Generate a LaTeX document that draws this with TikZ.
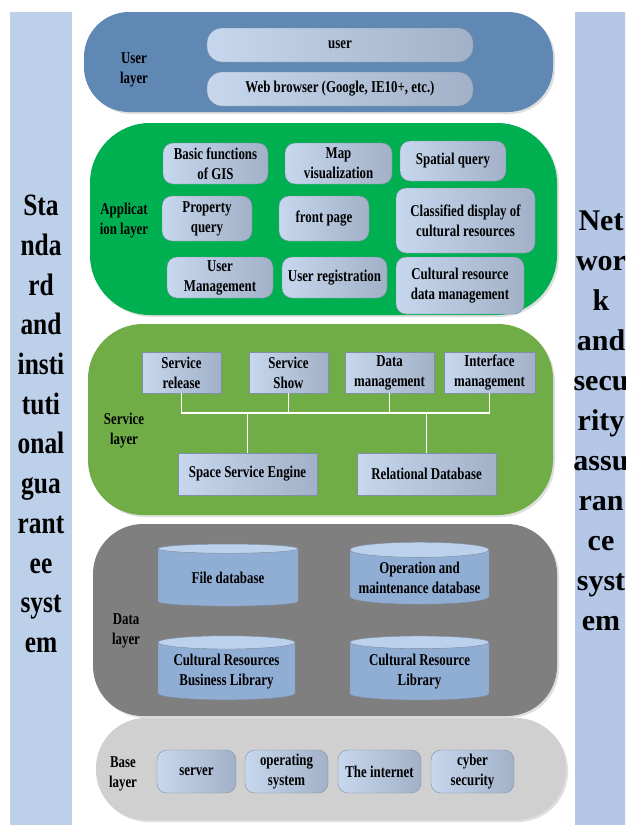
\documentclass[tikz,border=0pt]{standalone}
\usepackage{fontspec}
\setmainfont{Liberation Serif}
\newfontfamily\narrowfont{Liberation Serif}[FakeStretch=0.78]
\newfontfamily\sidefont{Liberation Serif}[FakeStretch=0.82]
\usetikzlibrary{shapes.geometric,calc,shadows}

\definecolor{sideleft}{HTML}{BDD0E9}
\definecolor{sideright}{HTML}{B4C7E7}
\definecolor{userblue}{HTML}{5F88B4}
\definecolor{appgreen}{HTML}{00B050}
\definecolor{srvgreen}{HTML}{70AD47}
\definecolor{datagray}{HTML}{7F7F7F}
\definecolor{basegray}{HTML}{D0D0D0}
\definecolor{boxlight}{HTML}{C6D7EE}
\definecolor{boxdark}{HTML}{A2B1C7}
\definecolor{boxline}{HTML}{7F8FA6}
\definecolor{cylbody}{HTML}{90ADD3}
\definecolor{cylend}{HTML}{BCD1EB}

\newcommand{\boxfont}{\narrowfont\bfseries\fontsize{16.5}{20}\selectfont}
\newcommand{\barfont}{\sidefont\bfseries\fontsize{31}{39.7}\selectfont}
\newcommand{\rbarfont}{\bfseries\fontsize{30}{40}\selectfont}

\tikzset{
  layer/.style={rounded corners=#1, drop shadow={shadow xshift=2pt, shadow yshift=-2pt, opacity=0.25}},
  box/.style={draw=boxline, left color=boxlight, right color=boxdark, rounded corners=10pt,
    align=center, inner sep=2pt, font=\boxfont},
  pill/.style={box, rounded corners=15pt},
  sbox/.style={box, rounded corners=0pt},
  dbcyl/.style={cylinder, shape border rotate=90, aspect=0.12, draw=boxline,
    cylinder uses custom fill, cylinder body fill=cylbody, cylinder end fill=cylend,
    align=center, inner sep=2pt, font=\boxfont},
  lbl/.style={align=center, font=\boxfont},
  busline/.style={white, line width=1.5pt}
}

\begin{document}
\begin{tikzpicture}[x=1pt, y=-1pt]
  \useasboundingbox (0,0) rectangle (625,825);
  \clip (0,0) rectangle (625,825);

  % side bars
  \fill[sideleft] (10,12) rectangle (72,830);
  \fill[sideright] (575,12) rectangle (640,830);
  \node[align=center, font=\barfont] (stdsys) at (41,424)
    {Sta\\nda\\rd\\and\\insti\\tuti\\onal\\gua\\rant\\ee\\syst\\em};
  \node[align=center, font=\rbarfont] (netsys) at (601,421)
    {Net\\wor\\k\\and\\secu\\rity\\assu\\ran\\ce\\syst\\em};

  % User layer
  \fill[userblue, layer=45pt] (84,12) rectangle (553,112);
  \node[lbl] (userlbl) at (134,70) {User\\layer};
  \node[pill, minimum width=266pt, minimum height=34pt] (user) at (340,45) {user};
  \node[pill, minimum width=266pt, minimum height=34pt] (web) at (340,89)
    {Web browser (Google, IE10+, etc.)};

  % Application layer
  \fill[appgreen, layer=60pt] (90,123) rectangle (557,315);
  \node[lbl] (applbl) at (124,221) {Applicat\\ion layer};
  \node[box, minimum width=105pt, minimum height=41pt] (gis) at (215.5,163.5) {Basic functions\\of GIS};
  \node[box, minimum width=107pt, minimum height=41pt] (mapv) at (338.5,163.5) {Map\\visualization};
  \node[box, minimum width=106pt, minimum height=40pt] (spq) at (453,161) {Spatial query};
  \node[box, minimum width=90pt, minimum height=45pt] (prop) at (207,218.5) {Property\\query};
  \node[box, minimum width=90pt, minimum height=45pt] (front) at (324,218.5) {front page};
  \node[box, minimum width=139pt, minimum height=65pt] (classd) at (465.5,220.5)
    {Classified display of\\cultural resources};
  \node[box, minimum width=106pt, minimum height=41pt] (userm) at (220,277.5) {User\\Management};
  \node[box, minimum width=105pt, minimum height=41pt] (usreg) at (334.5,277.5) {User registration};
  \node[box, minimum width=128pt, minimum height=57pt] (crdm) at (460,285.5)
    {Cultural resource\\data management};

  % Service layer
  \fill[srvgreen, layer=55pt] (88,324) rectangle (553,515);
  \node[lbl] (srvlbl) at (124,431) {Service\\layer};
  \node[sbox, minimum width=79pt, minimum height=41pt] (srel) at (181.5,372.5) {Service\\release};
  \node[sbox, minimum width=79pt, minimum height=41pt] (sshow) at (288.5,372.5) {Service\\Show};
  \node[sbox, minimum width=89pt, minimum height=41pt] (dmgmt) at (389.5,372.5) {Data\\management};
  \node[sbox, minimum width=91pt, minimum height=41pt] (imgmt) at (489.5,372.5) {Interface\\management};
  \node[sbox, minimum width=139pt, minimum height=42pt] (engine) at (247.5,474) {Space Service Engine};
  \node[sbox, minimum width=139pt, minimum height=42pt] (reldb) at (426.5,474) {Relational Database};

  % bus between the service boxes
  \coordinate (busl) at ($(srel.south)+(0,20)$);
  \coordinate (busr) at ($(imgmt.south)+(0,20)$);
  \draw[busline] (srel.south) -- (busl) -- (busr) -- (imgmt.south);
  \draw[busline] (sshow.south) -- (sshow.south |- busl);
  \draw[busline] (dmgmt.south) -- (dmgmt.south |- busl);
  \draw[busline] (engine.north |- busl) -- (engine.north);
  \draw[busline] (reldb.north |- busl) -- (reldb.north);

  % Data layer
  \fill[datagray, layer=50pt] (93,524) rectangle (557,716);
  \node[lbl] (datalbl) at (126,631) {Data\\layer};
  \node[dbcyl, minimum width=140pt, minimum height=62pt] (fdb) at (228,578) {File database};
  \node[dbcyl, minimum width=139pt, minimum height=62pt] (omdb) at (419.5,578)
    {Operation and\\maintenance database};
  \node[dbcyl, minimum width=137pt, minimum height=64pt] (crbl) at (226.5,672)
    {Cultural Resources\\Business Library};
  \node[dbcyl, minimum width=139pt, minimum height=64pt] (crl) at (419.5,672)
    {Cultural Resource\\Library};

  % Base layer
  \fill[basegray, layer=50pt] (96,718) rectangle (566,820);
  \node[lbl] (baselbl) at (123,774) {Base\\layer};
  \node[box, minimum width=79pt, minimum height=43pt] (server) at (196.5,771.5) {server};
  \node[box, minimum width=83pt, minimum height=43pt] (opsys) at (286.5,771.5) {operating\\system};
  \node[box, minimum width=83pt, minimum height=43pt] (inet) at (379.5,771.5) {The internet};
  \node[box, minimum width=83pt, minimum height=43pt] (cyber) at (472.5,771.5) {cyber\\security};
\end{tikzpicture}
\end{document}
